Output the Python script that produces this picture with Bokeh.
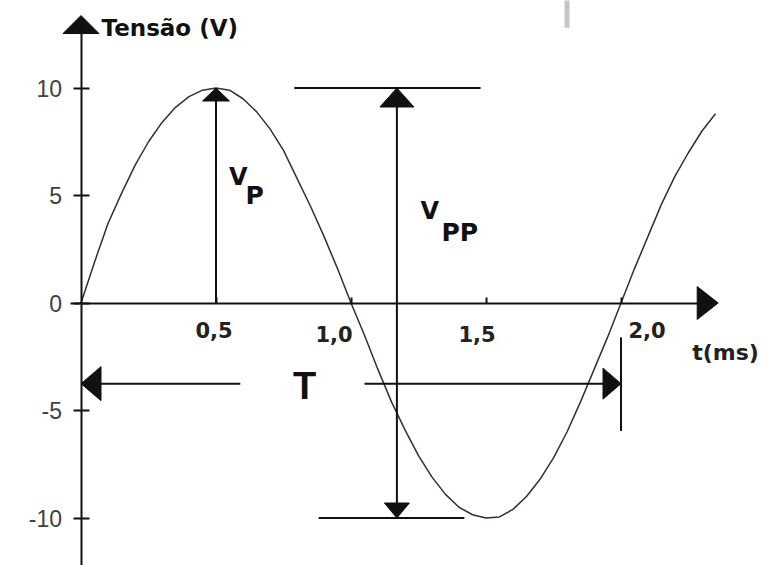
from bokeh.plotting import figure
from bokeh.models import Range1d, LinearAxis, FixedTicker
from bokeh.core.properties import value
from bokeh.embed import file_html
from bokeh.resources import INLINE

# ---------------- data ----------------
t_ms = [0.00, 0.05, 0.10, 0.15, 0.20, 0.25, 0.30, 0.35, 0.40, 0.45,
        0.50, 0.55, 0.60, 0.65, 0.70, 0.75, 0.80, 0.85, 0.90, 0.95,
        1.00, 1.05, 1.10, 1.15, 1.20, 1.25, 1.30, 1.35, 1.40, 1.45,
        1.50, 1.55, 1.60, 1.65, 1.70, 1.75, 1.80, 1.85, 1.90, 1.95,
        2.00, 2.05, 2.10, 2.15, 2.20, 2.25, 2.30, 2.35]
tensao_v = [0.0, 1.9, 3.7, 5.1, 6.4, 7.5, 8.4, 9.1, 9.6, 9.9,
            10.0, 9.9, 9.5, 8.9, 8.1, 7.1, 5.8, 4.5, 3.1, 1.6,
            0.0, -1.5, -3.1, -4.6, -5.9, -7.1, -8.1, -8.9, -9.5, -9.85,
            -10.0, -9.95, -9.6, -9.0, -8.2, -7.2, -6.0, -4.6, -3.1, -1.6,
            0.0, 1.6, 3.1, 4.6, 5.9, 7.0, 8.0, 8.8]

y_ticks = [-10, -5, 0, 5, 10]
y_tick_labels = ["-10", "-5", "0", "5", "10"]
x_ticks = [0.5, 1.0, 1.5, 2.0]
x_tick_labels = ["0,5", "1,0", "1,5", "2,0"]

vp_t = 0.5            # peak-voltage arrow position
vp_value = 10.0
vpp_t = 1.17          # peak-to-peak arrow position
vpp_top = 10.0
vpp_bottom = -10.0
vpp_top_bar = [0.79, 1.48]
vpp_bottom_bar = [0.88, 1.42]
period_start = 0.0
period_end = 2.0
period_level = -3.75
period_gap = [0.59, 1.05]
period_marker = [-1.6, -5.95]
y_axis_top = 13.37
x_axis_end = 2.36

# ---------------- figure ----------------
W, H = 761, 565
X0, X1 = -0.29815, 2.52037
Y0, Y1 = -12.2093, 14.0698
PXT = (X1 - X0) / W   # data units per pixel, horizontally
PXV = (Y1 - Y0) / H   # data units per pixel, vertically

p = figure(width=W, height=H, x_range=Range1d(X0, X1), y_range=Range1d(Y0, Y1),
           output_backend="svg", toolbar_location=None, min_border=0,
           x_axis_type=None, y_axis_type=None)
p.outline_line_color = None
p.background_fill_color = "white"
p.border_fill_color = "white"

INK = "#111111"

# y axis (at t = 0)
yaxis = LinearAxis(fixed_location=0, bounds=(-12.5, y_axis_top - 0.3),
                   ticker=FixedTicker(ticks=y_ticks),
                   major_label_overrides={k: v for k, v in zip(y_ticks, y_tick_labels)})
yaxis.axis_line_width = 2
yaxis.axis_line_color = INK
yaxis.major_tick_line_width = 2
yaxis.major_tick_line_color = INK
yaxis.major_tick_in = 8
yaxis.major_tick_out = 8
yaxis.minor_tick_line_color = None
yaxis.major_label_text_font = "Liberation Sans"
yaxis.major_label_text_font_size = "23px"
yaxis.major_label_text_color = "#404040"
yaxis.major_label_standoff = 11
p.add_layout(yaxis, "left")

# x axis (at v = 0); its labels are drawn as text below
xaxis = LinearAxis(fixed_location=0, bounds=(-0.04, x_axis_end - 0.07),
                   ticker=FixedTicker(ticks=x_ticks))
xaxis.axis_line_width = 2
xaxis.axis_line_color = INK
xaxis.major_tick_line_width = 2
xaxis.major_tick_line_color = INK
xaxis.major_tick_in = 6
xaxis.major_tick_out = 0
xaxis.minor_tick_line_color = None
xaxis.major_label_text_color = None
p.add_layout(xaxis, "below")

# sine curve
p.line(t_ms, tensao_v, line_color="#2e2e44", line_width=1.5)


def head(tx, ty, direction, length, width):
    """triangle arrow head with its tip at (tx, ty); sizes in pixels"""
    L, Wd = length, width / 2.0
    if direction == "up":
        return [tx, tx - Wd * PXT, tx + Wd * PXT], [ty, ty - L * PXV, ty - L * PXV]
    if direction == "down":
        return [tx, tx - Wd * PXT, tx + Wd * PXT], [ty, ty + L * PXV, ty + L * PXV]
    if direction == "left":
        return [tx, tx + L * PXT, tx + L * PXT], [ty, ty - Wd * PXV, ty + Wd * PXV]
    return [tx, tx - L * PXT, tx - L * PXT], [ty, ty - Wd * PXV, ty + Wd * PXV]


heads = [
    head(0.0, y_axis_top, "up", 18, 36),
    head(x_axis_end, 0.0, "right", 21, 33),
    head(vp_t, vp_value, "up", 13, 27),
    head(vpp_t, vpp_top, "up", 19, 34),
    head(vpp_t, vpp_bottom, "down", 15, 25),
    head(period_start, period_level, "left", 20, 34),
    head(period_end, period_level, "right", 18, 31),
]
p.patches([h[0] for h in heads], [h[1] for h in heads],
          fill_color=INK, line_color=INK, line_width=1)

# annotation lines
seg_x0 = [vp_t, vpp_t, vpp_top_bar[0], vpp_bottom_bar[0],
          period_start, period_gap[1], period_end]
seg_x1 = [vp_t, vpp_t, vpp_top_bar[1], vpp_bottom_bar[1],
          period_gap[0], period_end, period_end]
seg_y0 = [0.0, vpp_bottom + 8 * PXV, vpp_top, vpp_bottom,
          period_level, period_level, period_marker[0]]
seg_y1 = [vp_value - 6 * PXV, vpp_top - 8 * PXV, vpp_top, vpp_bottom,
          period_level, period_level, period_marker[1]]
p.segment(seg_x0, seg_y0, seg_x1, seg_y1, line_color=INK, line_width=2)

# faint scan mark at the top
p.segment([1.80], [14.1], [1.80], [12.8], line_color="#c4c4c4", line_width=5)

# x tick labels
p.text(x=x_ticks, y=[0.0] * len(x_ticks), text=x_tick_labels,
       x_offset=[-2, -17, -9, 26], y_offset=[27, 31, 31, 27],
       text_font=value("DejaVu Sans"), text_font_style="bold",
       text_font_size="21px", text_color="#222222",
       text_align="center", text_baseline="middle")

# axis titles
p.text(x=[0.076], y=[12.81], text=["Tensão (V)"],
       text_font=value("DejaVu Sans"), text_font_style="bold",
       text_font_size="23px", text_color="#111111",
       text_align="left", text_baseline="middle")
p.text(x=[2.387], y=[-2.30], text=["t(ms)"],
       text_font=value("DejaVu Sans"), text_font_style="bold",
       text_font_size="22px", text_color="#222222",
       text_align="center", text_baseline="middle")

# V_P, V_PP, T labels
p.text(x=[0.548, 1.257], y=[5.84, 4.26], text=["V", "V"],
       text_font=value("DejaVu Sans"), text_font_style="bold",
       text_font_size="24px", text_color="#111111",
       text_align="left", text_baseline="middle")
p.text(x=[0.609, 1.335], y=[5.0, 3.28], text=["P", "PP"],
       text_font=value("DejaVu Sans"), text_font_style="bold",
       text_font_size="25px", text_color="#111111",
       text_align="left", text_baseline="middle")
p.text(x=[0.828], y=[-3.84], text=["T"],
       text_font=value("Liberation Sans"), text_font_style="bold",
       text_font_size="38px", text_color="#111111",
       text_align="center", text_baseline="middle")

open("out.html", "w").write(file_html(p, INLINE))
